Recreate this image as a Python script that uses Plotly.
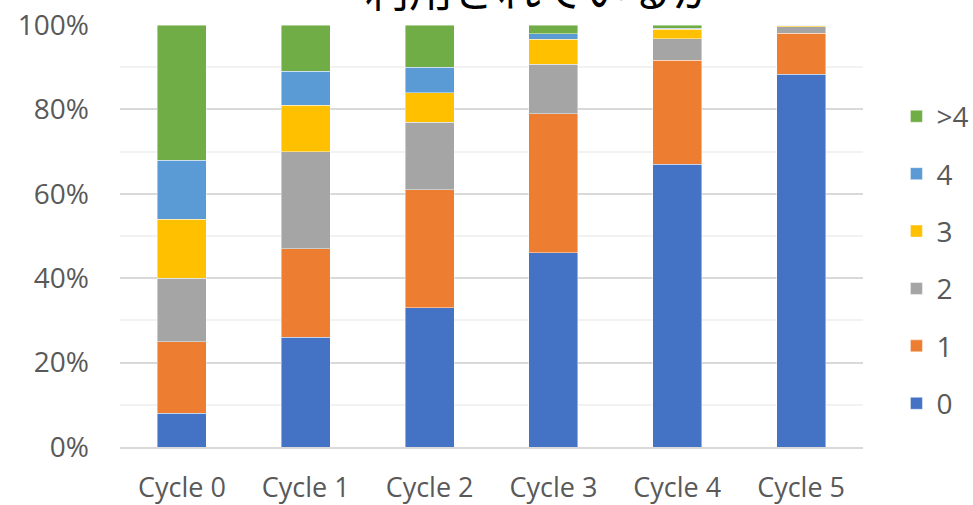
import plotly.graph_objects as go

# Share of items by count, per cycle (fractions of 100%)
cycles = ["Cycle 0", "Cycle 1", "Cycle 2", "Cycle 3", "Cycle 4", "Cycle 5"]
series_names = ["0", "1", "2", "3", "4", ">4"]
share_0 = [0.08, 0.26, 0.33, 0.46, 0.670, 0.883]
share_1 = [0.17, 0.21, 0.28, 0.33, 0.247, 0.098]
share_2 = [0.15, 0.23, 0.16, 0.117, 0.051, 0.015]
share_3 = [0.14, 0.11, 0.07, 0.059, 0.022, 0.002]
share_4 = [0.14, 0.08, 0.06, 0.013, 0.002, 0.002]
share_gt4 = [0.32, 0.11, 0.10, 0.021, 0.008, 0.000]
colors = ["#4472C4", "#ED7D31", "#A5A5A5", "#FFC000", "#5B9BD5", "#70AD47"]
title_text = "利用されているか"

series_values = [share_0, share_1, share_2, share_3, share_4, share_gt4]

fig = go.Figure()
for i, (name, vals, col) in enumerate(zip(series_names, series_values, colors)):
    fig.add_trace(go.Bar(
        x=cycles, y=vals, name=name, legendgroup=name,
        legendrank=100 - 10 * i,
        marker=dict(color=col, line=dict(color="rgba(255,255,255,0.55)", width=0.8)),
    ))

text_font = dict(family="Open Sans, DejaVu Sans, sans-serif", size=28, color="#595959")
x_font = dict(family="Open Sans, DejaVu Sans, sans-serif", size=27, color="#595959")

fig.update_layout(
    barmode="stack",
    bargap=0.605,
    width=973, height=505,
    margin=dict(l=120, r=110, t=25, b=58, autoexpand=False),
    paper_bgcolor="white", plot_bgcolor="white",
    font=text_font,
    showlegend=True,
    legend=dict(
        x=1.045, xanchor="left", y=0.443, yanchor="middle",
        traceorder="grouped", tracegroupgap=18,
        font=text_font, bgcolor="rgba(0,0,0,0)",
    ),
    annotations=[dict(
        text=title_text, xref="paper", yref="paper",
        x=(540 - 120) / 743, y=1.088, xanchor="center", yanchor="middle",
        showarrow=False,
        font=dict(family="Noto Sans CJK JP", size=44, color="#000000"),
    )],
)

fig.update_yaxes(
    range=[0, 1], dtick=0.2, tickformat=".0%", automargin=False,
    showgrid=True, gridcolor="#D9D9D9", gridwidth=1.5,
    minor=dict(dtick=0.1, showgrid=True, gridcolor="#F2F2F2", gridwidth=1.5),
    zeroline=False, showline=False, ticks="",
    ticklabelstandoff=30, tickfont=text_font,
)
fig.update_xaxes(
    showgrid=False, showline=True, linecolor="#D9D9D9", linewidth=1.5,
    automargin=False,
    ticks="", ticklabelstandoff=16, tickfont=x_font,
)

fig.write_html("out.html")
